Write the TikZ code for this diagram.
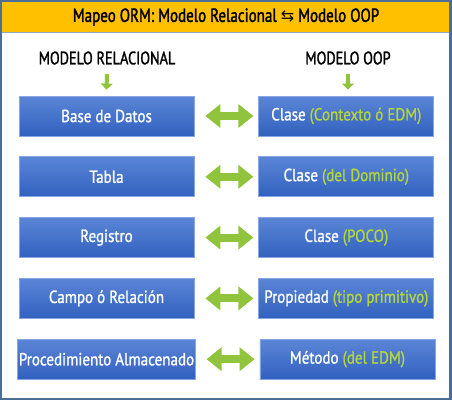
\documentclass[tikz,border=0pt]{standalone}
\usepackage{fontspec}
\setmainfont{PT Sans}[FakeStretch=0.86,FakeBold=1.2]
\newfontfamily\condfont{PT Sans}[FakeStretch=0.79,FakeBold=1.6]
\newfontfamily\symfont{DejaVu Sans}
\usepackage{tikz}
\usetikzlibrary{arrows.meta,positioning}
\definecolor{frame}{HTML}{4A6E96}
\definecolor{gold}{HTML}{FFC000}
\definecolor{boxtop}{HTML}{5B85D6}
\definecolor{boxbot}{HTML}{3161BF}
\definecolor{boxline}{HTML}{86A6E4}
\definecolor{lime}{HTML}{8FC43C}
\definecolor{note}{HTML}{B4D63A}

\begin{document}
\begin{tikzpicture}[x=1pt,y=1pt,node distance=20pt and 64pt,every node/.style={font=\fontsize{17.5}{20}\selectfont,align=center},box/.style={draw=boxline,line width=0.8pt,top color=boxtop,bottom color=boxbot,text=white,minimum width=175pt,minimum height=40pt,inner sep=1pt},head/.style={font=\condfont\fontsize{18}{20}\selectfont},link/.style={lime,line width=8pt,{Triangle[length=15pt,width=23pt]}-{Triangle[length=15pt,width=23pt]},shorten <=11pt,shorten >=5pt},down/.style={lime,line width=4pt,-{Triangle[length=6pt,width=12pt]}}]
\useasboundingbox (0,0) rectangle (452,-400);
\fill[frame] (0,0) rectangle (452,-400);
\fill[white] (2,-33) rectangle (449,-398);
\fill[gold] (2,-2) rectangle (449,-32);
\draw[frame!60,line width=1pt] (2,-32.5) -- (449,-32.5);
\node[font=\condfont\fontsize{19}{20}\selectfont] (title) at (226,-17) {Mapeo ORM: Modelo Relacional {\symfont\fontsize{16}{20}\selectfont ⇆} Modelo OOP};
\node[head] (hrel) at (107,-58) {MODELO RELACIONAL};
\node[head] (hoop) at (348,-58) {MODELO OOP};
% left column
\node[box] (bd) at (106.5,-116) {Base de Datos};
\node[box,below=of bd] (tabla) {Tabla};
\node[box,below=of tabla] (reg) {Registro};
\node[box,below=of reg] (campo) {Campo ó Relación};
\node[box,below=of campo] (proc) {Procedimiento Almacenado};
% right column
\node[box,right=of bd] (ctx) {Clase \textcolor{note}{(Contexto ó EDM)}};
\node[box,right=of tabla] (dom) {Clase \textcolor{note}{(del Dominio)}};
\node[box,right=of reg] (poco) {Clase \textcolor{note}{(POCO)}};
\node[box,right=of campo] (prop) {Propiedad \textcolor{note}{(tipo primitivo)}};
\node[box,right=of proc] (met) {Método \textcolor{note}{(del EDM)}};
\draw[down] (hrel.south) ++(0,-6) -- ([yshift=6pt]bd.north);
\draw[down] (hoop.south) ++(0,-6) -- ([yshift=6pt]ctx.north -| hoop.south);
\draw[link] (bd) -- (ctx);
\draw[link] (tabla) -- (dom);
\draw[link] (reg) -- (poco);
\draw[link] (campo) -- (prop);
\draw[link] (proc) -- (met);
\end{tikzpicture}
\end{document}
